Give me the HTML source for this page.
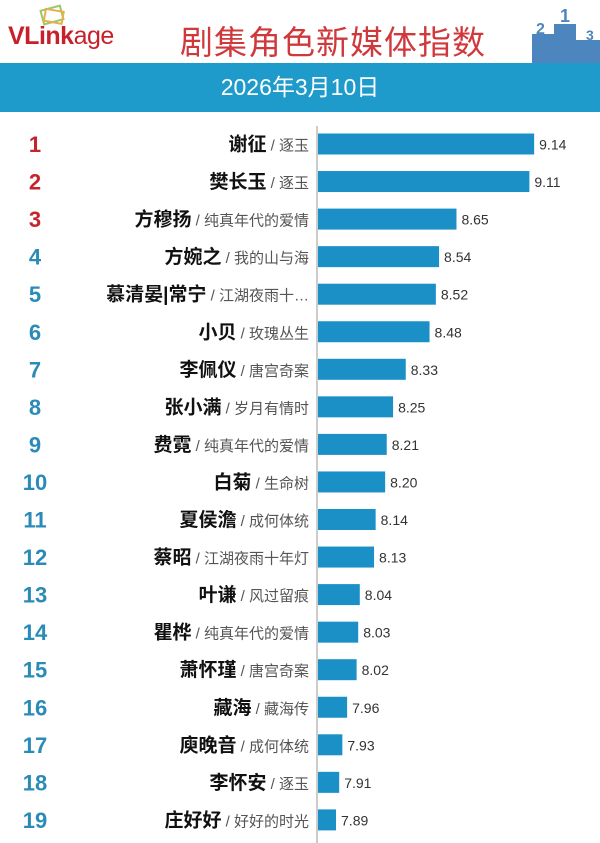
<!DOCTYPE html>
<html><head><meta charset="utf-8">
<style>
body{margin:0;width:600px;height:843px;background:#fff;overflow:hidden;font-family:"Liberation Sans","Noto Sans CJK SC",sans-serif;position:relative}
.logo{position:absolute;left:8px;top:22px;font-size:25px;font-weight:bold;color:#c8202a;letter-spacing:-0.5px}
.logo span{color:#c8202a;font-weight:normal}
.title{position:absolute;left:180px;top:16px;font-size:33px;color:#d0393b;font-family:"Noto Sans CJK SC",sans-serif;letter-spacing:1px}
.banner{position:absolute;left:0;top:63px;width:600px;height:49px;background:#1f9bcb;color:#fff;font-size:23px;text-align:center;line-height:49px;font-family:"Liberation Sans","Noto Sans CJK SC",sans-serif}
</style></head><body>
<div class="logo">VLink<span>age</span></div>
<svg style="position:absolute;left:38px;top:4px" width="30" height="22"><rect x="4" y="4" width="20" height="14" fill="none" stroke="#9bc86a" stroke-width="2" transform="rotate(-15 14 11)"/><rect x="7" y="6" width="18" height="12" fill="none" stroke="#e8b04a" stroke-width="2" transform="rotate(10 14 11)"/></svg>
<div class="title">剧集角色新媒体指数</div>
<svg style="position:absolute;left:528px;top:6px" width="72" height="57"><rect x="4" y="28" width="22" height="29" fill="#4d86bf"/><rect x="26" y="18" width="22" height="39" fill="#4d86bf"/><rect x="48" y="34" width="24" height="23" fill="#4d86bf"/><text x="8" y="28" fill="#4d86bf" font-size="16" font-weight="bold">2</text><text x="32" y="16" fill="#4d86bf" font-size="18" font-weight="bold">1</text><text x="58" y="34" fill="#4d86bf" font-size="14" font-weight="bold">3</text></svg>
<div class="banner">2026年3月10日</div>
<svg id="chart" style="position:absolute;left:0;top:0" width="600" height="843"></svg>
<script>
const names=["谢征","樊长玉","方穆扬","方婉之","慕清晏|常宁","小贝","李佩仪","张小满","费霓","白菊","夏侯澹","蔡昭","叶谦","瞿桦","萧怀瑾","藏海","庾晚音","李怀安","庄好好"];
const shows=["逐玉","逐玉","纯真年代的爱情","我的山与海","江湖夜雨十…","玫瑰丛生","唐宫奇案","岁月有情时","纯真年代的爱情","生命树","成何体统","江湖夜雨十年灯","风过留痕","纯真年代的爱情","唐宫奇案","藏海传","成何体统","逐玉","好好的时光"];
const values=[9.14,9.11,8.65,8.54,8.52,8.48,8.33,8.25,8.21,8.20,8.14,8.13,8.04,8.03,8.02,7.96,7.93,7.91,7.89];
const svg=document.getElementById('chart');const NS='http://www.w3.org/2000/svg';
const x0=317,base=7.77,scale=158.5;
const xS=v=>x0+(v-base)*scale;
const yS=i=>144+i*37.55;
function mk(t,a){const e=document.createElementNS(NS,t);for(const k in a)e.setAttribute(k,a[k]);svg.appendChild(e);return e;}
const ax=mk('line',{x1:x0,y1:126,x2:x0,y2:843,stroke:'#999','stroke-width':1});


values.forEach((v,i)=>{
 const y=yS(i);
 const r=mk('rect',{x:x0+1,y:y-10.5,width:xS(v)-x0-1,height:21,fill:'#1b90c6'});
 
 
 const vt=mk('text',{x:xS(v)+5,y:y+5.5,'font-size':14,fill:'#333','font-family':'Liberation Sans, sans-serif'});vt.textContent=v.toFixed(2);
 
 
 const rk=mk('text',{x:35,y:y+8,'text-anchor':'middle','font-size':22,'font-weight':'bold',fill:i<3?'#c4242c':'#2a8bb9','font-family':'Liberation Sans, sans-serif'});rk.textContent=i+1;
 
 
 const lb=mk('text',{x:309,y:y+6.5,'text-anchor':'end','font-family':'Liberation Sans, Noto Sans CJK SC, sans-serif'});
 
 
 const a=document.createElementNS(NS,'tspan');a.setAttribute('font-size',19);a.setAttribute('font-weight','bold');a.setAttribute('fill','#111');a.textContent=names[i];lb.appendChild(a);
 const b=document.createElementNS(NS,'tspan');b.setAttribute('font-size',15);b.setAttribute('fill','#555');b.textContent=' / '+shows[i];lb.appendChild(b);
});
</script>
</body></html>
